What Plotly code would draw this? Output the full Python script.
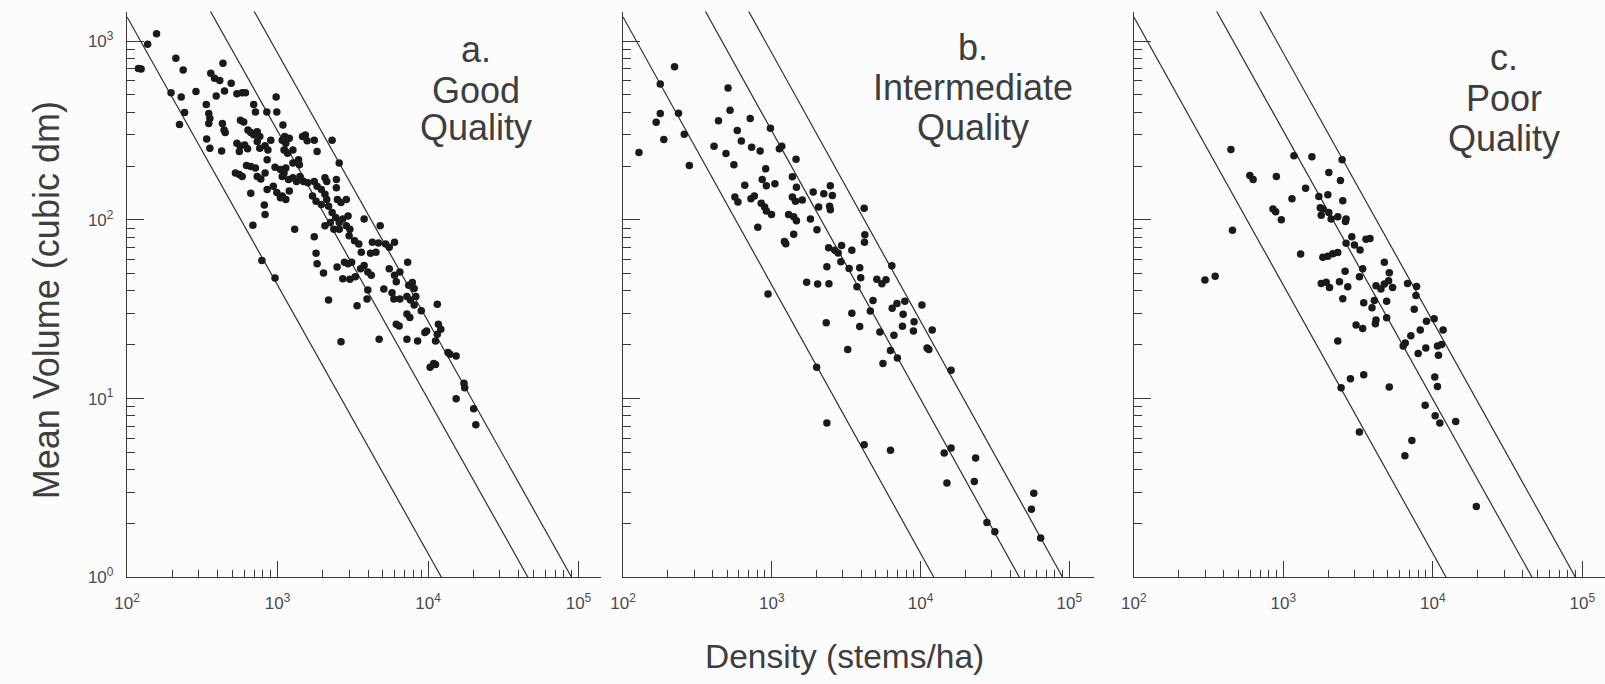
import plotly.graph_objects as go

# ---------------------------------------------------------------------------
# Data: stand density (stems/ha) and mean tree volume (cubic dm)
# ---------------------------------------------------------------------------
good_density = [
    157, 137, 119, 124, 211, 236, 196, 229, 241, 223, 287, 434, 360, 381, 413, 492,
    391, 444, 336, 349, 355, 349, 430, 441, 449, 338, 355, 425, 537, 582, 612, 694,
    713, 567, 596, 636, 664, 694, 733, 762, 733, 849, 979, 989, 1086, 1115, 537, 564,
    557, 605, 632, 762, 826, 863, 902, 853, 1074, 1135, 1197, 1104, 1165, 1265, 1466, 1531,
    1574, 1754, 1832, 2305, 2570, 1380, 1265, 525, 557, 582, 622, 664, 713, 733, 774, 826,
    853, 962, 1045, 1104, 1135, 1074, 1184, 1265, 664, 817, 826, 937, 989, 1074, 1045, 1135,
    1197, 1336, 1410, 1489, 1589, 1754, 1832, 1396, 2066, 2123, 1955, 2066, 1708, 1803, 1955, 2123,
    2183, 2460, 2460, 2500, 2641, 2864, 2305, 2433, 2570, 2713, 2943, 2066, 2244, 2368, 2570, 2864,
    3024, 3763, 2991, 3250, 3469, 4811, 4268, 4688, 5228, 5522, 5988, 3604, 4150, 4508, 1803, 1832,
    686, 1300, 1754, 2021, 2487, 2787, 2943, 3107, 2713, 3024, 3286, 3565, 3763, 3980, 4200, 5522,
    5988, 6152, 6500, 7322, 7447, 7870, 8090, 3980, 3933, 5085, 5768, 5928, 6500, 7244, 7650, 8300,
    8090, 3376, 2183, 11530, 787, 962, 7244, 7570, 6152, 6430, 9020, 11720, 12160, 11530, 11220, 9530,
    9790, 7244, 8530, 4734, 2641, 13580, 15380, 13960, 10330, 10910, 11220, 17340, 17540, 15380, 20100, 20790,
]
good_volume = [
    1100, 958, 703, 697, 802, 688, 513, 486, 398, 341, 522, 752, 660, 619, 601, 581,
    492, 525, 442, 393, 369, 346, 346, 318, 308, 283, 251, 243, 507, 513, 513, 442,
    401, 361, 353, 318, 308, 299, 311, 292, 274, 401, 486, 401, 339, 292, 268, 259,
    241, 262, 250, 251, 260, 246, 279, 217, 279, 268, 286, 246, 236, 246, 292, 298,
    277, 279, 241, 279, 208, 217, 208, 183, 179, 175, 201, 199, 195, 175, 169, 183,
    148, 197, 191, 183, 195, 175, 168, 172, 141, 121, 107, 154, 142, 136, 133, 130,
    145, 164, 175, 164, 161, 164, 154, 203, 172, 164, 148, 139, 136, 127, 122, 130,
    119, 168, 151, 130, 125, 130, 110, 103, 96.6, 101, 105, 92.6, 96.6, 88.7, 88.7, 92.6,
    88.7, 101, 81.5, 76.5, 73.3, 92.6, 74.9, 74.3, 73.3, 70.3, 74.9, 65.9, 65.1, 65.9, 65.1, 56.8,
    93.4, 88.7, 80.5, 50.5, 54.5, 58.0, 56.8, 58.0, 46.9, 46.6, 48.0, 53.3, 55.6, 51.1, 49.0, 53.3,
    49.0, 45.0, 51.1, 58.0, 43.1, 44.6, 41.3, 40.5, 36.1, 41.0, 39.1, 36.1, 36.1, 37.2, 35.6, 37.2,
    33.4, 33.1, 35.6, 33.7, 59.3, 47.3, 29.7, 28.4, 26.1, 25.5, 31.0, 26.1, 24.4, 22.9, 21.0, 23.4,
    23.9, 21.5, 21.0, 21.5, 20.8, 18.1, 17.3, 17.7, 15.0, 15.7, 15.5, 12.2, 11.5, 10.0, 8.79, 7.14,
]

intermediate_density = [
    128, 178, 222, 178, 167, 236, 188, 258, 279, 508, 524, 438, 716, 586, 624, 979,
    409, 492, 732, 835, 556, 1124, 1166, 1455, 909, 658, 862, 919, 1049, 1374, 1464, 565,
    592, 724, 763, 849, 895, 919, 995, 1374, 1442, 1602, 1897, 2235, 2473, 2552, 2065, 2447,
    2473, 1296, 1403, 1464, 805, 1819, 2011, 1403, 1216, 1242, 4175, 4219, 4197, 2410, 2649, 2793,
    2944, 2912, 3451, 2345, 3308, 3898, 3960, 3736, 5080, 5495, 5860, 6410, 1715, 2032, 2421, 4790,
    943, 7833, 6937, 10210, 6443, 4592, 3451, 7634, 2321, 3898, 7551, 9040, 8950, 5326, 11970, 6617,
    3238, 6278, 11060, 11360, 6983, 5586, 2001, 16030, 2345, 4175, 6278, 14410, 16030, 23440, 15030, 22960,
    57650, 55590, 27920, 31550, 64120,
]
intermediate_volume = [
    238, 575, 719, 393, 351, 395, 281, 301, 201, 547, 410, 358, 369, 316, 276, 325,
    258, 235, 255, 243, 203, 250, 258, 218, 193, 156, 168, 155, 159, 174, 152, 134,
    126, 131, 136, 124, 118, 112, 107, 134, 127, 129, 143, 140, 155, 137, 118, 119,
    114, 107, 104, 98.7, 90.8, 101, 88.1, 83.0, 75.7, 73.5, 116, 82.6, 75.0, 69.8, 67.5, 65.3,
    71.9, 58.2, 67.5, 54.7, 53.5, 54.0, 47.5, 42.3, 46.6, 43.9, 46.2, 55.3, 44.8, 43.7, 43.9, 35.4,
    38.5, 35.1, 34.0, 33.4, 32.0, 30.9, 30.0, 29.6, 26.6, 25.3, 25.4, 26.9, 23.9, 23.6, 24.2, 22.6,
    18.8, 18.6, 19.2, 18.8, 16.9, 15.7, 15.0, 14.4, 7.31, 5.52, 5.15, 4.96, 5.29, 4.65, 3.37, 3.44,
    2.96, 2.41, 2.03, 1.80, 1.66,
]

poor_density = [
    446, 1178, 1553, 2473, 2015, 597, 628, 898, 2410, 1409, 1142, 1729, 1985, 2499, 853, 889,
    1766, 1838, 2015, 1793, 2089, 2314, 2630, 2604, 970, 457, 2871, 3574, 3801, 2630, 2991, 3262,
    1305, 1838, 1985, 2143, 2314, 4740, 3396, 2590, 3228, 5114, 1793, 1935, 2036, 2374, 2698, 4169,
    4500, 4740, 5063, 5383, 6777, 7787, 299, 350, 7710, 2499, 3450, 4060, 4913, 3919, 7509, 4169,
    4127, 4913, 9070, 10210, 3067, 3396, 11720, 8240, 7131, 2314, 6541, 6339, 8980, 7980, 10740, 11430,
    10910, 10310, 10740, 2812, 3450, 2436, 5114, 8890, 10370, 11140, 14230, 3228, 7244, 6505, 19550,
]
poor_volume = [
    247, 228, 225, 217, 184, 177, 168, 175, 166, 150, 131, 135, 138, 128, 115, 111,
    117, 115, 110, 106, 101, 104, 101, 97.9, 100, 87.5, 80.4, 77.8, 78.7, 73.9, 72.3, 67.9,
    64.3, 61.7, 62.5, 64.6, 65.7, 57.9, 53.2, 51.5, 48.1, 50.6, 44.1, 44.7, 41.9, 45.0, 42.2, 42.8,
    41.0, 43.7, 45.6, 41.9, 44.1, 42.4, 46.1, 48.3, 37.7, 36.2, 34.4, 35.4, 35.0, 32.2, 31.6, 27.5,
    26.2, 28.3, 27.1, 28.0, 25.8, 24.7, 24.2, 24.2, 22.5, 21.0, 20.5, 19.7, 19.2, 17.9, 19.7, 20.1,
    17.5, 13.2, 11.7, 12.9, 13.6, 11.5, 11.6, 9.18, 8.03, 7.31, 7.46, 6.51, 5.84, 4.79, 2.49,
]

# Reference lines of slope -3/2: density at which each line reaches 1 cubic dm
line_density_at_unit_volume = [12300, 46200, 90200]
line_slope = -1.5

panel_titles = [
    ["a.", "Good", "Quality"],
    ["b.", "Intermediate", "Quality"],
    ["c.", "Poor", "Quality"],
]
x_tick_values = [1e2, 1e3, 1e4, 1e5]
x_tick_text = ["10<sup>2</sup>", "10<sup>3</sup>", "10<sup>4</sup>", "10<sup>5</sup>"]
y_tick_values = [1, 10, 100, 1000]
y_tick_text = ["10<sup>0</sup>", "10<sup>1</sup>", "10<sup>2</sup>", "10<sup>3</sup>"]
x_title = "Density (stems/ha)"
y_title = "Mean Volume (cubic dm)"

# ---------------------------------------------------------------------------
# Styling
# ---------------------------------------------------------------------------
W, H = 1605, 684
FONT = "Liberation Sans, Arial, Helvetica, sans-serif"
AXIS = "#3a3a3a"
TEXT = "#3e3e3e"
TICKTEXT = "#4a4a4a"
DOT = "#1a1a1a"

minor_x = [m * 10 ** e for e in (2, 3, 4) for m in range(2, 10)]
minor_y = [m * 10 ** e for e in (0, 1, 2) for m in range(2, 10)]

# panel geometry in pixels: left edge (10^2), pixels per decade, right end of axis line
panels = [
    dict(left=115, dec=151.7, right=593),
    dict(left=615, dec=150.0, right=1090),
    dict(left=1130, dec=150.7, right=1605),
]
y_bottom_px, y_top_px = 586, 11.7
y_top_log = 3.165
y_domain = [(H - y_bottom_px) / H, (H - y_top_px) / H]


def x_axis(p, anchor):
    upper = 2 + (p["right"] - p["left"]) / p["dec"]
    return dict(
        type="log", domain=[p["left"] / W, min(p["right"] / W, 1.0)], range=[2, upper],
        anchor=anchor, showline=True, linecolor=AXIS, linewidth=1.4,
        showgrid=False, zeroline=False,
        ticks="inside", ticklen=16, tickwidth=1.1, tickcolor=AXIS,
        tickmode="array", tickvals=x_tick_values, ticktext=x_tick_text,
        tickfont=dict(family=FONT, size=17, color=TICKTEXT),
        ticklabelstandoff=10,
        minor=dict(tickmode="array", tickvals=minor_x, ticks="inside",
                   ticklen=7, tickwidth=1, tickcolor=AXIS, showgrid=False),
    )


def y_axis(anchor, labels):
    return dict(
        type="log", domain=y_domain, range=[0, y_top_log], anchor=anchor,
        showline=True, linecolor=AXIS, linewidth=1.4,
        showgrid=False, zeroline=False,
        ticks="inside", ticklen=17, tickwidth=1.1, tickcolor=AXIS,
        tickmode="array", tickvals=y_tick_values, ticktext=y_tick_text,
        showticklabels=labels,
        tickfont=dict(family=FONT, size=17, color=TICKTEXT),
        ticklabelstandoff=9,
        minor=dict(tickmode="array", tickvals=minor_y, ticks="inside",
                   ticklen=8, tickwidth=1, tickcolor=AXIS, showgrid=False),
    )


fig = go.Figure()

series = [
    (good_density, good_volume),
    (intermediate_density, intermediate_volume),
    (poor_density, poor_volume),
]
for i, (dens, vol) in enumerate(series):
    xa = "x" if i == 0 else f"x{i + 1}"
    ya = "y" if i == 0 else f"y{i + 1}"
    for n_unit in line_density_at_unit_volume:
        xs = [100, n_unit]
        ys = [(x / n_unit) ** line_slope for x in xs]
        fig.add_trace(go.Scatter(
            x=xs, y=ys, mode="lines", xaxis=xa, yaxis=ya,
            line=dict(color="#2e2e2e", width=1.2), hoverinfo="skip",
        ))
    fig.add_trace(go.Scatter(
        x=dens, y=vol, mode="markers", xaxis=xa, yaxis=ya,
        marker=dict(size=7.5, color=DOT, line=dict(width=0)),
    ))

layout = dict(
    width=W, height=H, autosize=False,
    margin=dict(l=0, r=0, t=0, b=0, pad=0),
    paper_bgcolor="#fcfcfc", plot_bgcolor="rgba(0,0,0,0)",
    showlegend=False,
    font=dict(family=FONT, color=TEXT),
)
for i, p in enumerate(panels):
    suffix = "" if i == 0 else str(i + 1)
    layout[f"xaxis{suffix}"] = x_axis(p, f"y{suffix}")
    layout[f"yaxis{suffix}"] = y_axis(f"x{suffix}", i == 0)
fig.update_layout(**layout)

# panel captions (centre x, centre y of each line in pixels)
caption_x = [467, 968, 1503]
caption_y = [[50, 92, 129], [48, 89, 129], [58, 100, 141]]
for i, lines in enumerate(panel_titles):
    for text, yc in zip(lines, caption_y[i]):
        fig.add_annotation(
            text=text, x=caption_x[i] / W, y=1 - yc / H, xref="paper", yref="paper",
            xanchor="center", yanchor="middle", showarrow=False,
            font=dict(family=FONT, size=36, color=TEXT),
        )

fig.add_annotation(
    text=x_title, x=838 / W, y=1 - 666 / H, xref="paper", yref="paper",
    xanchor="center", yanchor="middle", showarrow=False,
    font=dict(family=FONT, size=33.5, color=TEXT),
)
fig.add_annotation(
    text=y_title, x=34 / W, y=1 - 305 / H, xref="paper", yref="paper",
    xanchor="center", yanchor="middle", showarrow=False, textangle=-90,
    font=dict(family=FONT, size=36, color=TEXT),
)

fig.write_html("out.html")
